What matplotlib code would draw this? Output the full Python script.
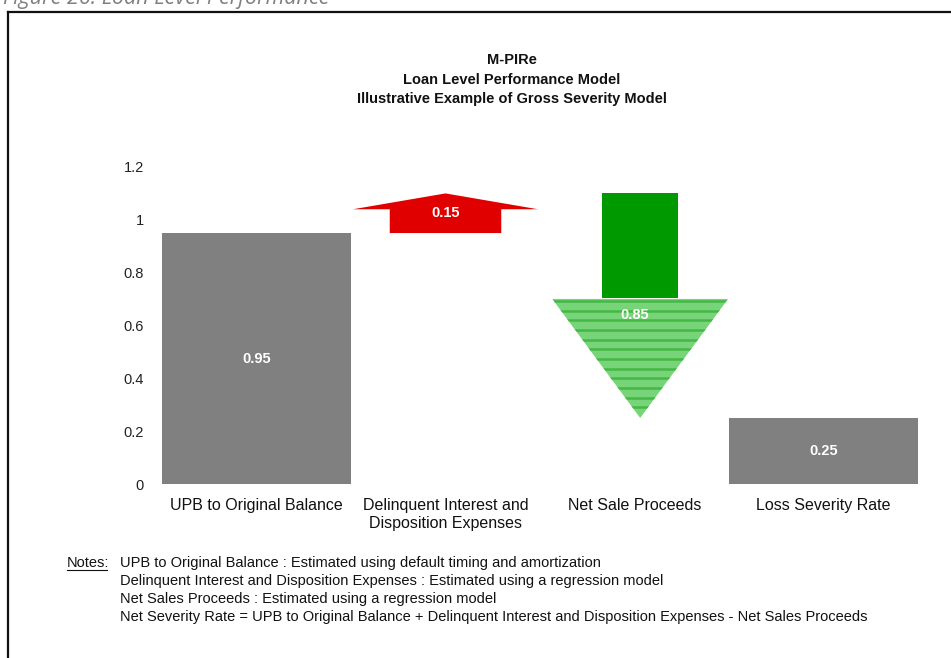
import numpy as np
import matplotlib.pyplot as plt
from matplotlib.patches import Polygon
from matplotlib.lines import Line2D

# Data
categories = ['UPB to Original Balance', 'Delinquent Interest and\nDisposition Expenses',
              'Net Sale Proceeds', 'Loss Severity Rate']
upb = 0.95
delinquent = 0.15
net_sale = 0.85
loss_severity = 0.25
y_ticks = [0, 0.2, 0.4, 0.6, 0.8, 1, 1.2]
y_tick_labels = ['0', '0.2', '0.4', '0.6', '0.8', '1', '1.2']

title_lines = ['M-PIRe', 'Loan Level Performance Model', 'Illustrative Example of Gross Severity Model']
notes = ['UPB to Original Balance : Estimated using default timing and amortization',
         'Delinquent Interest and Disposition Expenses : Estimated using a regression model',
         'Net Sales Proceeds : Estimated using a regression model',
         'Net Severity Rate = UPB to Original Balance + Delinquent Interest and Disposition Expenses - Net Sales Proceeds']

plt.rcParams['font.family'] = ['Liberation Sans', 'DejaVu Sans']

GRAY = '#808080'
RED = '#e00000'
GREEN = '#009a00'
LIGHT_GREEN = '#78d478'
STRIPE = '#44b844'

fig = plt.figure(figsize=(9.51, 6.58), dpi=100)
ax = fig.add_axes([162 / 951, 1 - 484 / 658, 756 / 951, 317 / 658])

x = np.arange(len(categories))

# gray bars
ax.bar(x[0], upb, width=1.0, color=GRAY, edgecolor='none')
ax.bar(x[3], loss_severity, width=1.0, color=GRAY, edgecolor='none')

# red up arrow (0.95 -> 1.10)
r0 = upb
r1 = upb + delinquent
head_len = 0.4 * delinquent
bw, hw = 0.59, 0.98
cx = x[1]
ax.add_patch(Polygon([(cx - bw / 2, r0), (cx + bw / 2, r0), (cx + bw / 2, r1 - head_len),
                      (cx + hw / 2, r1 - head_len), (cx, r1), (cx - hw / 2, r1 - head_len),
                      (cx - bw / 2, r1 - head_len)], closed=True, color=RED, lw=0))

# green down arrow (1.10 -> 0.25)
g0 = r1
g1 = r1 - net_sale
head_len = 0.53 * net_sale
bw, hw = 0.40, 0.93
cx = x[2] + 0.03
ax.add_patch(Polygon([(cx - bw / 2, g0), (cx + bw / 2, g0), (cx + bw / 2, g1 + head_len + 0.002),
                      (cx - bw / 2, g1 + head_len + 0.002)], closed=True, color=GREEN, lw=0))
head = Polygon([(cx - hw / 2, g1 + head_len), (cx + hw / 2, g1 + head_len), (cx, g1)],
               closed=True, color=LIGHT_GREEN, lw=0)
ax.add_patch(head)
for yy in np.linspace(g1 + head_len - 0.008, g1 + 0.04, 12):
    ln = ax.plot([cx - hw / 2, cx + hw / 2], [yy, yy], color=STRIPE, lw=1.8)[0]
    ln.set_clip_path(head)

# value labels
lab = dict(ha='center', va='center', color='white', fontsize=10.5, fontweight='bold')
ax.text(x[0], upb / 2, f'{upb:.2f}', **lab)
ax.text(x[1], upb + delinquent / 2, f'{delinquent:.2f}', **lab)
ax.text(x[2], 0.64, f'{net_sale:.2f}', **lab)
ax.text(x[3], loss_severity / 2, f'{loss_severity:.2f}', **lab)

ax.set_xlim(-0.5, 3.5)
ax.set_ylim(0, 1.2)
ax.set_yticks(y_ticks)
ax.set_yticklabels(y_tick_labels, fontsize=10.5, color='#222222')
ax.set_xticks(x)
ax.set_xticklabels(categories, fontsize=11.5, color='#111111', va='top', linespacing=1.25)
ax.tick_params(length=0, axis='y', pad=13)
ax.tick_params(length=0, axis='x', pad=10)
for s in ax.spines.values():
    s.set_visible(False)

# title
for i, t in enumerate(title_lines):
    fig.text(512 / 951, 1 - (60 + i * 19.5) / 658, t, ha='center', va='center',
             fontsize=10.5, fontweight='bold', color='#111111')

# notes
fig.text(67 / 951, 1 - 563 / 658, 'Notes:', ha='left', va='center', fontsize=10.5, color='#111111')
fig.add_artist(Line2D([67 / 951, 107 / 951], [1 - 570 / 658, 1 - 570 / 658], color='#111111', lw=0.8))
for i, n in enumerate(notes):
    fig.text(120 / 951, 1 - (563 + i * 18) / 658, n, ha='left', va='center', fontsize=10.5,
             color='#111111')

# frame and caption
fig.add_artist(Line2D([7.5 / 951, 7.5 / 951], [0, 1 - 12 / 658], color='#111111', lw=1.6))
fig.add_artist(Line2D([7.5 / 951, 1], [1 - 12 / 658, 1 - 12 / 658], color='#111111', lw=1.6))
fig.text(3 / 951, 1 - 4 / 658, 'Figure 26: Loan Level Performance', ha='left', va='baseline',
         fontsize=15.5, style='italic', color='#7f7f7f', family=['Open Sans', 'DejaVu Sans'])

fig.savefig('out.png', dpi=100)
